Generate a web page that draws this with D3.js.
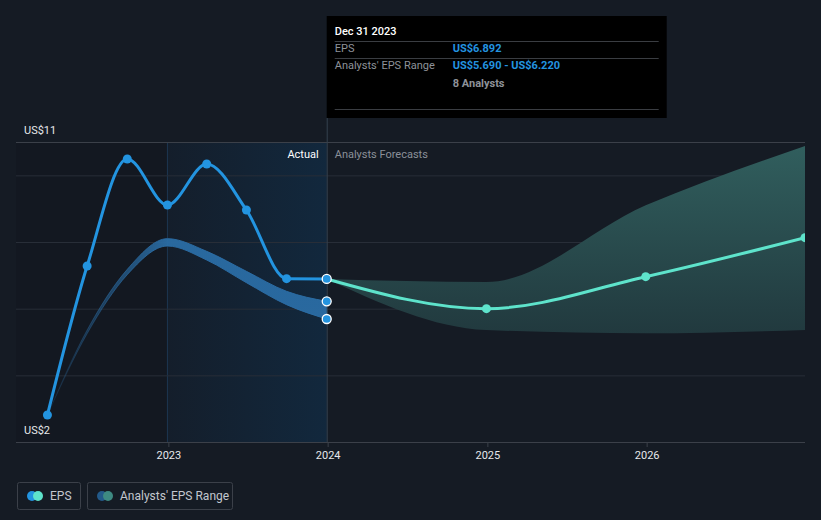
<!DOCTYPE html>
<html>
<head>
<meta charset="utf-8">
<script src="https://cdn.jsdelivr.net/npm/d3@7"></script>
<style>
  html, body { margin: 0; padding: 0; background: #151b24; }
  svg { display: block; font-family: Roboto, "Noto Sans", sans-serif; }
</style>
</head>
<body>
<svg id="chart" width="821" height="520"></svg>
<script>
// ---------- data ----------
const epsDates = ["2022-03-31","2022-06-30","2022-09-30","2022-12-31","2023-03-31","2023-06-30","2023-09-30","2023-12-31"];
const epsValues = [2.81, 7.28, 10.49, 9.11, 10.34, 8.96, 6.90, 6.892];

const rangeDates = ["2022-03-31","2022-06-30","2022-09-30","2022-12-31","2023-03-31","2023-06-30","2023-09-30","2023-12-31"];
const rangeLow  = [2.81, 5.25, 7.02, 7.88, 7.46, 6.78, 6.12, 5.69];
const rangeHigh = [2.81, 5.36, 7.18, 8.10, 7.72, 7.12, 6.52, 6.22];

const fcDates  = ["2023-12-31","2024-12-31","2025-12-31","2026-12-31"];
const fcValues = [6.892, 6.00, 6.96, 8.13];
const fcLow    = [6.892, 5.36, 5.26, 5.36];
const fcHigh   = [6.892, 6.80, 9.10, 10.88];

const yTickValues = [2, 4, 6, 8, 10, 11];
const yLabels = [{v: 11, t: "US$11"}, {v: 2, t: "US$2"}];
const xTickYears = ["2023", "2024", "2025", "2026"];

const tooltipTitle = "Dec 31 2023";
const tooltipRows = [
  {k: "EPS", v: "US$6.892"},
  {k: "Analysts' EPS Range", v: "US$5.690 - US$6.220"}
];
const tooltipNote = "8 Analysts";

// ---------- setup ----------
const parse = d3.timeParse("%Y-%m-%d");
const svg = d3.select("#chart");
const L = 16, R = 805, T = 142, B = 442;

const x = d3.scaleTime()
  .domain([parse("2022-01-18"), parse("2026-12-31")])
  .range([L, R]);
const y = d3.scaleLinear().domain([2, 11]).range([B, T]);

const eps = epsDates.map((d, i) => ({d: parse(d), v: epsValues[i]}));
const rng = rangeDates.map((d, i) => ({d: parse(d), lo: rangeLow[i], hi: rangeHigh[i]}));
const fc  = fcDates.map((d, i) => ({d: parse(d), v: fcValues[i], lo: fcLow[i], hi: fcHigh[i]}));

const defs = svg.append("defs");
defs.append("clipPath").attr("id", "clip")
  .append("rect").attr("x", L).attr("y", 0).attr("width", R - L).attr("height", B);

const gActual = defs.append("linearGradient").attr("id", "actualGrad")
  .attr("x1", 0).attr("x2", 1).attr("y1", 0).attr("y2", 0);
gActual.append("stop").attr("offset", 0).attr("stop-color", "#141e2b");
gActual.append("stop").attr("offset", 1).attr("stop-color", "#12283d");

const xStart = x(parse(rangeDates[0]));
const xPeak = x(parse("2022-12-31"));
const gBand = defs.append("linearGradient").attr("id", "bandGrad")
  .attr("gradientUnits", "userSpaceOnUse")
  .attr("x1", xStart).attr("x2", xPeak).attr("y1", 0).attr("y2", 0);
gBand.append("stop").attr("offset", 0).attr("stop-color", "#2a6ca4").attr("stop-opacity", 0.05);
gBand.append("stop").attr("offset", 1).attr("stop-color", "#2a6ca4").attr("stop-opacity", 0.95);

const gFc = defs.append("linearGradient").attr("id", "fcGrad")
  .attr("gradientUnits", "userSpaceOnUse")
  .attr("x1", 0).attr("x2", 0).attr("y1", T).attr("y2", 335);
gFc.append("stop").attr("offset", 0).attr("stop-color", "#315f5e");
gFc.append("stop").attr("offset", 1).attr("stop-color", "#21393e");

// past region slight dark shade
const x2023 = x(parse("2023-01-01"));
const x2024 = x(parse("2024-01-01"));
const xNow = x(parse("2023-12-31"));
svg.append("rect").attr("x", L).attr("y", T).attr("width", x(parse("2022-12-31")) - L).attr("height", B - T)
  .attr("fill", "#000").attr("opacity", 0.08);

// Actual region
const xa0 = x(parse("2022-12-31"));
svg.append("rect").attr("x", xa0).attr("y", T).attr("width", xNow - xa0).attr("height", B - T)
  .attr("fill", "url(#actualGrad)");
svg.append("line").attr("x1", xa0).attr("x2", xa0).attr("y1", T).attr("y2", B)
  .attr("stroke", "#1d3550").attr("stroke-width", 1);

// gridlines
svg.append("g").selectAll("line").data(yTickValues).join("line")
  .attr("x1", L).attr("x2", R)
  .attr("y1", d => y(d) + 0.5).attr("y2", d => y(d) + 0.5)
  .attr("stroke", d => (d === 11 || d === 2) ? "#3b4049" : "#282e38")
  .attr("stroke-width", 1);

// x axis ticks & labels
const xAxis = d3.axisBottom(x)
  .tickValues(xTickYears.map(t => parse(t + "-01-01")))
  .tickFormat(d3.timeFormat("%Y"))
  .tickSize(5).tickPadding(4);
const gx = svg.append("g").attr("transform", `translate(0.5,${B})`).call(xAxis);
gx.select(".domain").remove();
gx.selectAll(".tick line").attr("stroke", "#3b4049");
gx.selectAll(".tick text").attr("fill", "#e6e8eb").attr("font-size", 11)
  .attr("font-family", "Roboto, sans-serif");

// y labels
svg.append("g").selectAll("text").data(yLabels).join("text")
  .attr("x", 24).attr("y", d => d.v === 11 ? y(d.v) - 8 : y(d.v) - 8)
  .attr("fill", "#e6e8eb").attr("font-size", 11).text(d => d.t);

// forecast band
const plot = svg.append("g").attr("clip-path", "url(#clip)");
plot.append("path").datum(fc)
  .attr("d", d3.area().x(d => x(d.d)).y0(d => y(d.lo)).y1(d => y(d.hi)).curve(d3.curveMonotoneX))
  .attr("fill", "url(#fcGrad)");

// historical analyst band
plot.append("path").datum(rng)
  .attr("d", d3.area().x(d => x(d.d)).y0(d => y(d.lo)).y1(d => y(d.hi)).curve(d3.curveMonotoneX))
  .attr("fill", "url(#bandGrad)")
  .attr("stroke", "url(#bandGrad)").attr("stroke-width", 1);

// tooltip vertical line
svg.append("line").attr("x1", xNow + 0.5).attr("x2", xNow + 0.5).attr("y1", 118).attr("y2", B)
  .attr("stroke", "#34404f").attr("stroke-width", 1);

// labels Actual / Analysts Forecasts
svg.append("text").attr("x", xNow - 8).attr("y", 158).attr("text-anchor", "end")
  .attr("fill", "#ffffff").attr("font-size", 11).text("Actual");
svg.append("text").attr("x", xNow + 8).attr("y", 158)
  .attr("fill", "#8b9099").attr("font-size", 11).text("Analysts Forecasts");

// forecast line
plot.append("path").datum(fc)
  .attr("d", d3.line().x(d => x(d.d)).y(d => y(d.v)).curve(d3.curveMonotoneX))
  .attr("fill", "none").attr("stroke", "#5ee3cb").attr("stroke-width", 3);

// EPS line
plot.append("path").datum(eps)
  .attr("d", d3.line().x(d => x(d.d)).y(d => y(d.v)).curve(d3.curveMonotoneX))
  .attr("fill", "none").attr("stroke", "#2394e0").attr("stroke-width", 3);

// forecast points
plot.append("g").selectAll("circle").data(fc.slice(1)).join("circle")
  .attr("cx", d => x(d.d)).attr("cy", d => y(d.v)).attr("r", 4.5)
  .attr("fill", "#5ee3cb");

// EPS points
plot.append("g").selectAll("circle").data(eps.slice(0, -1)).join("circle")
  .attr("cx", d => x(d.d)).attr("cy", d => y(d.v)).attr("r", 4.5)
  .attr("fill", "#2394e0");

// highlighted points at current date
const last = eps[eps.length - 1];
const lastR = rng[rng.length - 1];
svg.append("g").selectAll("circle").data([last.v, lastR.hi, lastR.lo]).join("circle")
  .attr("cx", x(last.d)).attr("cy", d => y(d)).attr("r", 4.5)
  .attr("fill", "#2394e0").attr("stroke", "#ffffff").attr("stroke-width", 1.3);

// tooltip box
const tb = svg.append("g").attr("transform", `translate(${xNow},16)`);
tb.append("rect").attr("x", 0).attr("y", 0).attr("width", 340).attr("height", 102).attr("fill", "#000000");
tb.append("text").attr("x", 8).attr("y", 19).attr("fill", "#ffffff").attr("font-size", 11)
  .attr("font-weight", 500).text(tooltipTitle);
[25, 42, 93].forEach(yy => tb.append("line").attr("x1", 8).attr("x2", 332)
  .attr("y1", yy + 0.5).attr("y2", yy + 0.5).attr("stroke", "#3a3d42"));
tooltipRows.forEach((r, i) => {
  const yy = 36 + i * 17;
  tb.append("text").attr("x", 8).attr("y", yy).attr("fill", "#8e9299").attr("font-size", 11).text(r.k);
  tb.append("text").attr("x", 126).attr("y", yy).attr("fill", "#2394e0").attr("font-size", 11)
    .attr("font-weight", "bold").text(r.v);
});
tb.append("text").attr("x", 126).attr("y", 71).attr("fill", "#8e9299").attr("font-size", 11)
  .attr("font-weight", "bold").text(tooltipNote);

// legend
const legend = [
  {label: "EPS", c1: "#2394e0", c2: "#5ee3cb", x: 17, w: 64},
  {label: "Analysts' EPS Range", c1: "#235a8a", c2: "#3e8a82", x: 87, w: 146}
];
const lg = svg.append("g").selectAll("g").data(legend).join("g")
  .attr("transform", d => `translate(${d.x},482)`);
lg.append("rect").attr("x", 0.5).attr("y", 0.5).attr("width", d => d.w - 1).attr("height", 27)
  .attr("rx", 2).attr("fill", "none").attr("stroke", "#3b4049");
lg.append("circle").attr("cx", 15).attr("cy", 14).attr("r", 5).attr("fill", d => d.c1);
lg.append("circle").attr("cx", 21).attr("cy", 14).attr("r", 5).attr("fill", d => d.c2);
lg.append("text").attr("x", 33).attr("y", 18).attr("fill", "#c3c7ce").attr("font-size", 12)
  .text(d => d.label);
</script>
</body>
</html>
